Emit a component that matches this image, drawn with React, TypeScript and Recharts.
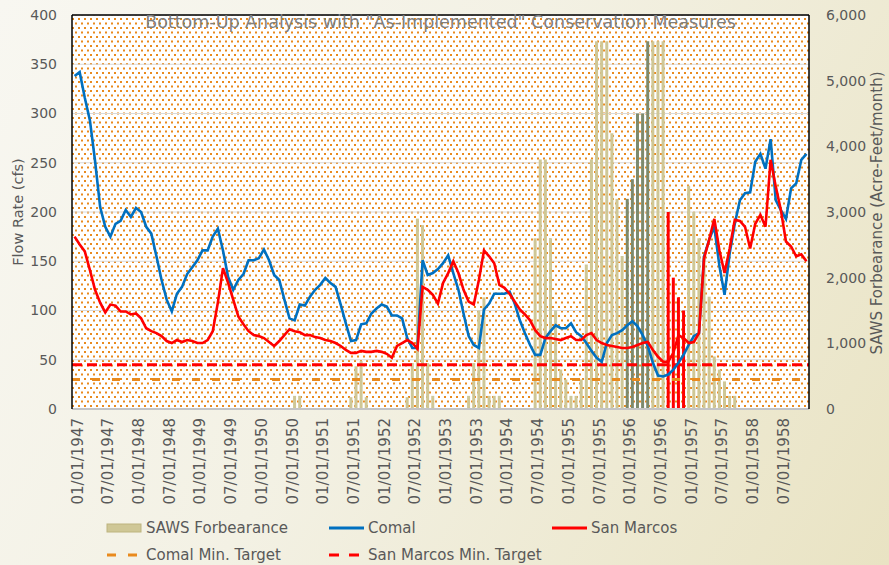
import React from "react";
import {
  ComposedChart,
  Bar,
  Line,
  XAxis,
  YAxis,
  CartesianGrid,
  ReferenceLine,
} from "recharts";

const FONT = "'DejaVu Sans', Verdana, sans-serif";
const TEXT = "#595959";

// monthly categories, Jan 1947 .. Dec 1958
const START_YEAR = 1947;
const N_YEARS = 12;
const MONTHS: string[] = [];
for (let y = 0; y < N_YEARS; y++) {
  for (let m = 1; m <= 12; m++) {
    MONTHS.push(`${String(m).padStart(2, "0")}/01/${START_YEAR + y}`);
  }
}

// flow rate, cfs (one row per year)
const COMAL = [
  338, 342, 316, 293, 252, 205, 185, 175, 188, 191, 202, 195,
  204, 200, 185, 178, 155, 131, 111, 99, 117, 124, 137, 144,
  151, 161, 161, 175, 183, 161, 134, 121, 131, 137, 151, 151,
  153, 162, 151, 136, 131, 111, 92, 90, 106, 105, 114, 121,
  126, 133, 128, 124, 106, 87, 69, 70, 86, 87, 97, 102,
  106, 104, 95, 95, 92, 72, 62, 62, 151, 136, 138, 142,
  148, 156, 138, 121, 97, 74, 65, 62, 101, 107, 117, 117,
  117, 119, 107, 90, 77, 65, 55, 55, 72, 79, 85, 82,
  82, 87, 78, 74, 67, 59, 52, 48, 67, 75, 77, 80,
  85, 89, 84, 75, 64, 47, 34, 33, 35, 40, 47, 55,
  65, 74, 77, 155, 172, 185, 145, 116, 158, 188, 212, 219,
  220, 251, 259, 244, 274, 212, 202, 193, 224, 229, 253, 259,
];

const SAN_MARCOS = [
  175, 167, 160, 141, 121, 108, 98, 106, 105, 99, 99, 96,
  97, 92, 82, 79, 77, 74, 69, 67, 70, 68, 70, 69,
  67, 67, 70, 79, 108, 143, 128, 111, 94, 86, 79, 75,
  74, 72, 68, 64, 69, 75, 81, 79, 78, 75, 75, 73,
  72, 70, 69, 67, 64, 60, 57, 57, 59, 58, 58, 59,
  58, 56, 52, 64, 67, 70, 67, 61, 124, 121, 116, 107,
  128, 138, 150, 138, 121, 109, 106, 131, 161, 155, 148, 126,
  123, 117, 109, 101, 96, 90, 80, 74, 72, 72, 71, 70,
  72, 74, 70, 70, 75, 77, 70, 67, 65, 64, 63, 62,
  62, 63, 65, 67, 68, 60, 53, 48, 48, 57, 75, 72,
  67, 68, 77, 153, 172, 193, 161, 138, 163, 192, 191, 185,
  163, 188, 197, 185, 253, 226, 202, 170, 165, 155, 157, 150,
];

// SAWS forbearance, acre-feet/month
const SAWS_FORBEARANCE = [
  0, 0, 0, 0, 0, 0, 0, 0, 0, 0, 0, 0,
  0, 0, 0, 0, 0, 0, 0, 0, 0, 0, 0, 0,
  0, 0, 0, 0, 0, 0, 0, 0, 0, 0, 0, 0,
  0, 0, 0, 0, 0, 0, 0, 200, 200, 0, 0, 0,
  0, 0, 0, 0, 0, 0, 180, 650, 730, 180, 0, 0,
  0, 0, 0, 0, 0, 180, 700, 2900, 2800, 700, 200, 0,
  0, 0, 0, 0, 0, 200, 700, 1500, 1700, 200, 200, 200,
  0, 0, 0, 0, 0, 0, 2600, 3800, 3800, 2600, 1500, 600,
  450, 200, 200, 450, 2200, 3800, 5600, 5600, 5600, 4200, 3200, 2330,
  0, 0, 0, 0, 0, 5600, 5600, 5600, 0, 0, 0, 0,
  3400, 3000, 2600, 2330, 1710, 800, 600, 420, 200, 200, 0, 0,
  0, 0, 0, 0, 0, 0, 0, 0, 0, 0, 0, 0,
];
// early-1956 months drawn in grey-green
const SAWS_FORBEARANCE_GREY = [
  ...new Array(108).fill(0),
  3200, 3500, 4500, 4500, 5600, 0, 0, 0, 0, 0, 0, 0,
  ...new Array(24).fill(0),
];
// late-1956 months drawn in red
const SAWS_FORBEARANCE_RED = [
  ...new Array(108).fill(0),
  0, 0, 0, 0, 0, 0, 0, 0, 3000, 2000, 1700, 1500,
  ...new Array(24).fill(0),
];

const COMAL_MIN_TARGET = 30;
const SAN_MARCOS_MIN_TARGET = 45;

const FLOW_TICKS = [0, 50, 100, 150, 200, 250, 300, 350, 400];
const FORB_TICKS = [0, 1000, 2000, 3000, 4000, 5000, 6000];

const data = MONTHS.map((month, i) => ({
  month,
  comal: COMAL[i],
  sanMarcos: SAN_MARCOS[i],
  forb: SAWS_FORBEARANCE[i],
  forbGrey: SAWS_FORBEARANCE_GREY[i],
  forbRed: SAWS_FORBEARANCE_RED[i],
}));

function MonthTick({ x, y, payload }: any) {
  const cx = x + 3;
  return (
    <text
      x={cx}
      y={y}
      transform={`rotate(-90, ${cx}, ${y})`}
      textAnchor="end"
      dominantBaseline="central"
      fill={TEXT}
      fontSize={15}
      fontFamily={FONT}
    >
      {payload.value}
    </text>
  );
}

function LegendItem({ left, top, label, children }: {
  left: number;
  top: number;
  label: string;
  children: React.ReactNode;
}) {
  return (
    <div style={{ position: "absolute", left, top, display: "flex", alignItems: "center", height: 18 }}>
      <svg width={36} height={12} style={{ marginRight: 4 }}>{children}</svg>
      <span style={{ fontSize: 15, color: TEXT, fontFamily: FONT, whiteSpace: "nowrap" }}>{label}</span>
    </div>
  );
}

export default function App() {
  return (
    <div
      style={{
        position: "absolute",
        left: 0,
        top: 0,
        width: 889,
        height: 565,
        overflow: "hidden",
        background: "linear-gradient(120deg, #f8f7f1 0%, #f3f1e4 45%, #e9e3c3 100%)",
        fontFamily: FONT,
      }}
    >
      <svg width={0} height={0} style={{ position: "absolute" }}>
        <defs>
          <pattern id="dots" width={6} height={9} patternUnits="userSpaceOnUse">
            <rect width={6} height={9} fill="#ffffff" />
            <rect x={0} y={0} width={2} height={2} fill="#e98a1d" />
            <rect x={3} y={4.5} width={2} height={2} fill="#e98a1d" />
          </pattern>
        </defs>
      </svg>

      <ComposedChart
        width={889}
        height={565}
        data={data}
        margin={{ top: 15, right: 0, bottom: 0, left: 0 }}
        barGap={0}
      >
        <CartesianGrid
          yAxisId="left"
          vertical={false}
          stroke="#d9d9d9"
          strokeWidth={1.2}
          fill="url(#dots)"
        />
        <XAxis
          dataKey="month"
          interval={5}
          height={156}
          tickLine={false}
          tickSize={0}
          tickMargin={9}
          axisLine={{ stroke: "#c4c4c4", strokeWidth: 2 }}
          tick={<MonthTick />}
        />
        <YAxis
          yAxisId="left"
          domain={[0, 400]}
          ticks={FLOW_TICKS}
          width={72}
          tickLine={false}
          tickSize={0}
          tickMargin={15}
          axisLine={{ stroke: "#000", strokeWidth: 1.5 }}
          tick={{ fill: TEXT, fontSize: 14, fontFamily: FONT }}
        />
        <YAxis
          yAxisId="right"
          orientation="right"
          domain={[0, 6000]}
          ticks={FORB_TICKS}
          width={80}
          tickLine={false}
          tickSize={0}
          tickMargin={17}
          axisLine={{ stroke: "#000", strokeWidth: 1.5 }}
          tick={{ fill: TEXT, fontSize: 14, fontFamily: FONT }}
          tickFormatter={(v: number) => v.toLocaleString("en-US")}
        />
        <Bar yAxisId="right" dataKey="forb" stackId="f" barSize={3} fill="#cfc796" isAnimationActive={false} />
        <Bar yAxisId="right" dataKey="forbGrey" stackId="f" barSize={3} fill="#7d8a6d" isAnimationActive={false} />
        <Bar yAxisId="right" dataKey="forbRed" stackId="f" barSize={3} fill="#ff0000" isAnimationActive={false} />
        <ReferenceLine yAxisId="left" y={400} stroke="#000" strokeWidth={1.5} />
        <ReferenceLine
          yAxisId="left"
          y={COMAL_MIN_TARGET}
          stroke="#e98a1d"
          strokeWidth={3}
          strokeDasharray="8 12"
        />
        <ReferenceLine
          yAxisId="left"
          y={SAN_MARCOS_MIN_TARGET}
          stroke="#ff0000"
          strokeWidth={3}
          strokeDasharray="10 5"
        />
        <Line
          yAxisId="left"
          type="linear"
          dataKey="comal"
          stroke="#0070c0"
          strokeWidth={2.6}
          dot={false}
          isAnimationActive={false}
        />
        <Line
          yAxisId="left"
          type="linear"
          dataKey="sanMarcos"
          stroke="#ff0000"
          strokeWidth={2.6}
          dot={false}
          isAnimationActive={false}
        />
      </ComposedChart>

      <div
        style={{
          position: "absolute",
          left: 72,
          width: 737,
          top: 12,
          textAlign: "center",
          fontSize: 17.5,
          color: "#7f7f7f",
          whiteSpace: "nowrap",
        }}
      >
        Bottom-Up Analysis with "As-Implemented" Conservation Measures
      </div>

      <div
        style={{
          position: "absolute",
          left: 18,
          top: 212,
          transform: "translate(-50%, -50%) rotate(-90deg)",
          fontSize: 14.5,
          color: TEXT,
          whiteSpace: "nowrap",
        }}
      >
        Flow Rate (cfs)
      </div>
      <div
        style={{
          position: "absolute",
          left: 877,
          top: 213,
          transform: "translate(-50%, -50%) rotate(-90deg)",
          fontSize: 15,
          color: TEXT,
          whiteSpace: "nowrap",
        }}
      >
        SAWS Forbearance (Acre-Feet/month)
      </div>

      <LegendItem left={106} top={519} label="SAWS Forbearance">
        <rect x={1} y={2} width={34} height={8} fill="#cfc796" stroke="#bdb47f" />
      </LegendItem>
      <LegendItem left={328} top={519} label="Comal">
        <line x1={1} y1={6} x2={36} y2={6} stroke="#0070c0" strokeWidth={3} />
      </LegendItem>
      <LegendItem left={551} top={519} label="San Marcos">
        <line x1={1} y1={6} x2={36} y2={6} stroke="#ff0000" strokeWidth={3} />
      </LegendItem>
      <LegendItem left={106} top={546} label="Comal Min. Target">
        <line x1={1} y1={6} x2={32} y2={6} stroke="#e98a1d" strokeWidth={3} strokeDasharray="9 12" />
      </LegendItem>
      <LegendItem left={328} top={546} label="San Marcos Min. Target">
        <line x1={1} y1={6} x2={33} y2={6} stroke="#ff0000" strokeWidth={3} strokeDasharray="10 10" />
      </LegendItem>
    </div>
  );
}
